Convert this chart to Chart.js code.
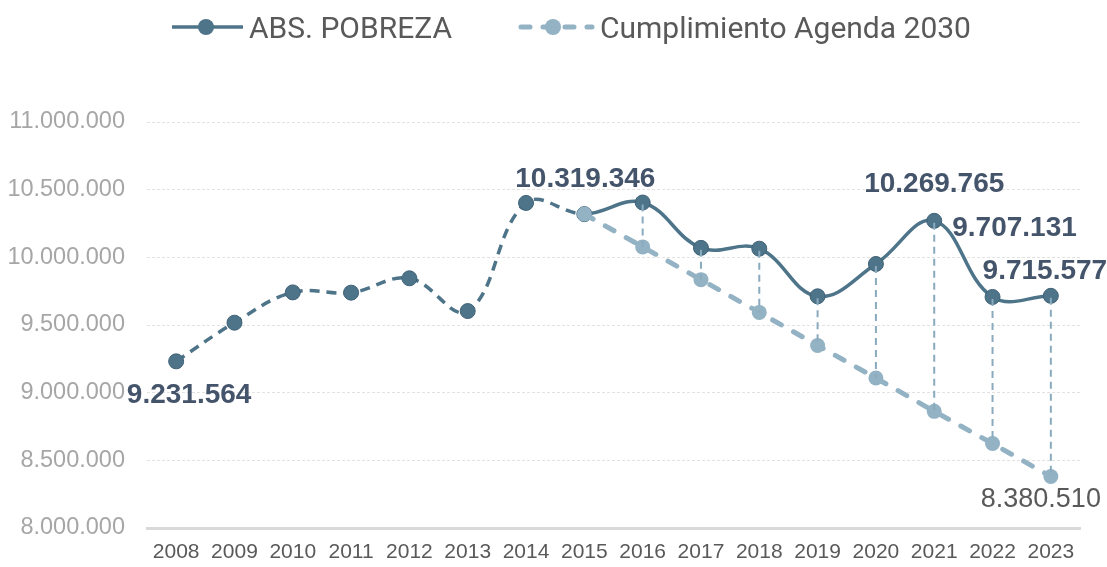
<!DOCTYPE html>
<html><head><meta charset="utf-8">
<script src="https://cdn.jsdelivr.net/npm/chart.js@4"></script>
<style>html,body{margin:0;padding:0;background:#fff}#wrap{width:1107px;height:567px;position:relative}canvas{display:block}</style>
</head><body><div id="wrap"><canvas id="c" width="1107" height="567"></canvas></div>
<script>
const years = ['2008','2009','2010','2011','2012','2013','2014','2015','2016','2017','2018','2019','2020','2021','2022','2023'];
const absPobreza = [9231564, 9517000, 9741000, 9739000, 9845000, 9603000, 10402000, 10319346, 10405000, 10070000, 10064000, 9712000, 9951000, 10269765, 9707131, 9715577];
const cumplimientoAgenda2030 = [null, null, null, null, null, null, null, 10319346, 10077000, 9835000, 9593000, 9349000, 9108000, 8862000, 8624000, 8380510];
const yTickValues = [8000000, 8500000, 9000000, 9500000, 10000000, 10500000, 11000000];
const seriesNames = ['ABS. POBREZA', 'Cumplimiento Agenda 2030'];

const ABS = '#4e7489', ABS_D = '#3f6176', CUMP = '#93b2c4', DROP = '#8aaabe';
const fmt = v => String(Math.round(v)).replace(/\B(?=(\d{3})+(?!\d))/g, '.');

const labelSpecs = [
  {ds: 0, i: 0,  dx: 13,  dy: 34,  bold: true},
  {ds: 1, i: 7,  dx: 1,   dy: -35, bold: true},
  {ds: 0, i: 13, dx: 0,   dy: -37, bold: true},
  {ds: 0, i: 14, dx: 22,  dy: -69, bold: true},
  {ds: 0, i: 15, dx: -6,  dy: -25, bold: true},
  {ds: 1, i: 15, dx: -10, dy: 23,  bold: false}
];

const dropLines = {
  id: 'dropLines',
  afterDatasetsDraw(chart) {
    const a = chart.getDatasetMeta(0).data, b = chart.getDatasetMeta(1).data;
    const first = cumplimientoAgenda2030.findIndex(v => v !== null);
    const ctx = chart.ctx;
    ctx.save();
    ctx.strokeStyle = DROP; ctx.lineWidth = 2; ctx.setLineDash([7, 5]);
    for (let i = first + 1; i < years.length; i++) {
      if (absPobreza[i] == null || cumplimientoAgenda2030[i] == null) continue;
      ctx.beginPath();
      ctx.moveTo(a[i].x, a[i].y + 2);
      ctx.lineTo(b[i].x, b[i].y);
      ctx.stroke();
    }
    ctx.restore();
  }
};

const dataLabels = {
  id: 'dataLabels',
  afterDraw(chart) {
    const ctx = chart.ctx;
    ctx.save();
    ctx.textAlign = 'center'; ctx.textBaseline = 'middle';
    labelSpecs.forEach(s => {
      const el = chart.getDatasetMeta(s.ds).data[s.i];
      const v = chart.data.datasets[s.ds].data[s.i];
      ctx.font = s.bold ? 'bold 28px "Liberation Sans", Arial, sans-serif' : '27px "Liberation Sans", Arial, sans-serif';
      ctx.fillStyle = s.bold ? '#44546a' : '#595959';
      ctx.fillText(fmt(v), el.x + s.dx, el.y + s.dy);
    });
    ctx.restore();
  }
};

const customLegend = {
  id: 'customLegend',
  afterDraw(chart) {
    const ctx = chart.ctx;
    const y = 27;
    ctx.save();
    ctx.strokeStyle = ABS; ctx.lineWidth = 3.5; ctx.setLineDash([]);
    ctx.beginPath(); ctx.moveTo(172, y); ctx.lineTo(243, y); ctx.stroke();
    ctx.fillStyle = ABS; ctx.beginPath(); ctx.arc(206, y, 8, 0, Math.PI * 2); ctx.fill();
    ctx.strokeStyle = CUMP; ctx.lineWidth = 5; ctx.lineCap = 'round'; ctx.setLineDash([9, 13]);
    ctx.beginPath(); ctx.moveTo(521, y); ctx.lineTo(592, y); ctx.stroke();
    ctx.setLineDash([]);
    ctx.fillStyle = CUMP; ctx.beginPath(); ctx.arc(553, y, 8, 0, Math.PI * 2); ctx.fill();
    ctx.font = '30px Roboto, "Liberation Sans", sans-serif';
    ctx.fillStyle = '#595959'; ctx.textAlign = 'left'; ctx.textBaseline = 'alphabetic';
    ctx.fillText(chart.data.datasets[0].label, 249, 38);
    ctx.fillText(chart.data.datasets[1].label, 600, 38);
    ctx.restore();
  }
};

new Chart(document.getElementById('c'), {
  type: 'line',
  data: {
    labels: years,
    datasets: [
      {
        label: seriesNames[0], data: absPobreza,
        borderColor: ABS, backgroundColor: ABS, borderWidth: 3.5, tension: 0.4,
        pointRadius: 7.5, pointBackgroundColor: ABS, pointBorderColor: ABS_D, pointBorderWidth: 1,
        order: 1,
        segment: { borderDash: c => c.p0DataIndex < 7 ? [10, 7] : undefined }
      },
      {
        label: seriesNames[1], data: cumplimientoAgenda2030,
        borderColor: CUMP, backgroundColor: CUMP, borderWidth: 5, borderDash: [10, 14], borderCapStyle: 'round',
        tension: 0, pointRadius: 7.5, pointBackgroundColor: CUMP, pointBorderWidth: 0, order: 0
      }
    ]
  },
  options: {
    responsive: false, animation: false, devicePixelRatio: 1,
    layout: { padding: { top: 122, right: 27, bottom: 0, left: 0 } },
    plugins: { legend: { display: false }, tooltip: { enabled: false } },
    scales: {
      x: {
        offset: true,
        grid: { display: false, drawTicks: false },
        border: { color: '#d9d9d9', width: 3 },
        ticks: { color: '#595959', font: { family: '"Liberation Sans", Arial, sans-serif', size: 21 }, padding: 12, maxRotation: 0, autoSkip: false },
        afterFit: s => { s.height = 39; }
      },
      y: {
        min: 8000000, max: 11000000,
        afterBuildTicks: s => { s.ticks = yTickValues.map(v => ({ value: v })); },
        grid: { color: '#e2e2e2', drawTicks: false, lineWidth: 1 },
        border: { display: false, dash: [3, 2] },
        ticks: { color: '#a6a6a6', font: { family: '"Liberation Sans", Arial, sans-serif', size: 23.5 }, padding: 22, callback: v => fmt(v) },
        afterFit: s => { s.width = 147; }
      }
    }
  },
  plugins: [dropLines, dataLabels, customLegend]
});
</script>
</body></html>
